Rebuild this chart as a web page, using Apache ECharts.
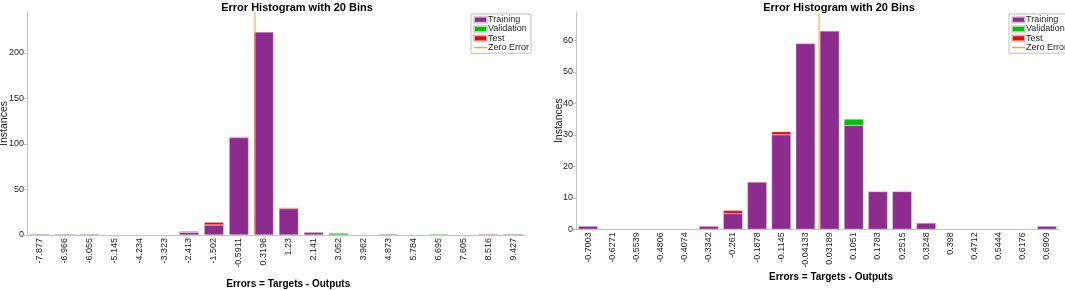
<!DOCTYPE html>
<html>
<head>
<meta charset="utf-8">
<script src="https://cdn.jsdelivr.net/npm/echarts@6/dist/echarts.min.js"></script>
<style>
  html, body { margin: 0; padding: 0; background: #fff; }
  #wrap { position: relative; width: 1065px; height: 290px; }
  #left { position: absolute; left: 0; top: 0; width: 540px; height: 290px; }
  #right { position: absolute; left: 540px; top: 0; width: 525px; height: 290px; }
</style>
</head>
<body>
<div id="wrap">
  <div id="left"></div>
  <div id="right"></div>
</div>
<script>
// Left histogram (bin centers + stacked counts)
const leftBins = ['-7.877', '-6.966', '-6.055', '-5.145', '-4.234', '-3.323', '-2.413', '-1.502', '-0.5911', '0.3196',
  '1.23', '2.141', '3.052', '3.962', '4.873', '5.784', '6.695', '7.605', '8.516', '9.427'];
const leftTraining = [1, 1, 1, 0, 0, 0, 3, 11, 107, 223, 29, 3, 0, 0, 1, 0, 0, 0, 1, 1];
const leftValidation = [0, 0, 0, 0, 0, 0, 0, 0, 1, 0, 0, 0, 2, 0, 0, 0, 1, 0, 0, 0];
const leftTest = [0, 0, 0, 0, 0, 0, 1, 3, 0, 0, 1, 0, 0, 0, 0, 0, 0, 0, 0, 0];
const leftYTicks = [0, 50, 100, 150, 200];
const leftYMax = 245;

// Right histogram
const rightBins = ['-0.7003', '-0.6271', '-0.5539', '-0.4806', '-0.4074', '-0.3342', '-0.261', '-0.1878', '-0.1145', '-0.04133',
  '0.03189', '0.1051', '0.1783', '0.2515', '0.3248', '0.398', '0.4712', '0.5444', '0.6176', '0.6909'];
const rightTraining = [1, 0, 0, 0, 0, 1, 5, 15, 30, 59, 63, 33, 12, 12, 2, 0, 0, 0, 0, 1];
const rightValidation = [0, 0, 0, 0, 0, 0, 0, 0, 0, 0, 0, 2, 0, 0, 0, 0, 0, 0, 0, 0];
const rightTest = [0, 0, 0, 0, 0, 0, 1, 0, 1, 0, 0, 0, 0, 0, 0, 0, 0, 0, 0, 0];
const rightYTicks = [0, 10, 20, 30, 40, 50, 60];
const rightYMax = 69;

const FONT = '"Liberation Sans", Arial, sans-serif';
const AXIS_COLOR = '#c4c4c4';
const TEXT_COLOR = '#262626';
const ZERO_COLOR = '#f5a623';
// thin horizontal stroke for the legend, padded so it keeps the icon box
const LINE_ICON = 'path://M0,0L0.01,0L0,0.01Z M0,4.6L26,4.6L26,7.4L0,7.4Z M26,12L25.99,12L26,11.99Z';

function buildOption(cfg) {
  const n = cfg.bins.length;
  const first = parseFloat(cfg.bins[0]);
  const step = (parseFloat(cfg.bins[n - 1]) - first) / (n - 1);
  // position of error = 0 on a 0..n scale where bin i spans [i, i+1]
  const zeroPos = (0 - first) / step + 0.5;
  const noZero = arr => arr.map(v => (v === 0 ? null : v));
  const barStyle = color => ({ color: color, borderColor: 'rgba(210,210,210,0.8)', borderWidth: 0.5 });

  return {
    animation: false,
    textStyle: { fontFamily: FONT },
    title: {
      text: 'Error Histogram with 20 Bins',
      left: cfg.titleX,
      top: -3,
      textAlign: 'center',
      textStyle: { fontSize: 11, fontWeight: 'bold', color: '#000', fontFamily: FONT }
    },
    legend: {
      orient: 'vertical',
      left: cfg.legendX,
      top: 14,
      padding: [1, 2, 1, 2],
      itemGap: 0,
      itemWidth: 13,
      itemHeight: 6,
      borderColor: '#bdbdbd',
      borderWidth: 1,
      backgroundColor: '#fff',
      textStyle: { fontSize: 9, lineHeight: 9.3, color: TEXT_COLOR, padding: [0, 0, 0, -4], fontFamily: FONT },
      data: [
        { name: 'Training', icon: 'rect' },
        { name: 'Validation', icon: 'rect' },
        { name: 'Test', icon: 'rect' },
        { name: 'Zero Error', icon: LINE_ICON, itemStyle: { color: ZERO_COLOR } }
      ]
    },
    grid: {
      left: cfg.grid[0], right: cfg.grid[1], top: cfg.grid[2], bottom: cfg.grid[3],
      outerBoundsMode: 'none', containLabel: false
    },
    xAxis: [
      {
        type: 'category',
        data: cfg.bins,
        axisLine: { lineStyle: { color: AXIS_COLOR } },
        axisTick: { alignWithLabel: true, length: 3, lineStyle: { color: AXIS_COLOR } },
        axisLabel: { rotate: 90, fontSize: 9, color: TEXT_COLOR, margin: 3, interval: 0, fontFamily: FONT },
        name: 'Errors = Targets - Outputs',
        nameLocation: 'middle',
        nameGap: cfg.xNameGap,
        nameMoveOverlap: false,
        nameTextStyle: { fontSize: 10, fontWeight: 'bold', color: '#000', padding: [0, 0, 0, cfg.xNameShift], fontFamily: FONT }
      },
      {
        type: 'value',
        min: 0,
        max: n,
        show: false
      }
    ],
    yAxis: {
      type: 'value',
      min: 0,
      max: cfg.yMax,
      splitLine: { show: false },
      axisLine: { show: true, lineStyle: { color: AXIS_COLOR } },
      axisTick: { show: true, length: 3, customValues: cfg.yTicks, lineStyle: { color: AXIS_COLOR } },
      axisLabel: { fontSize: 9, color: TEXT_COLOR, margin: 3, customValues: cfg.yTicks, fontFamily: FONT },
      name: 'Instances',
      nameLocation: 'middle',
      nameGap: cfg.yNameGap,
      nameMoveOverlap: false,
      nameTextStyle: { fontSize: 10.5, color: TEXT_COLOR, fontFamily: FONT }
    },
    series: [
      { name: 'Training', type: 'bar', stack: 'e', barWidth: cfg.barWidth, data: noZero(cfg.training), itemStyle: barStyle('#8e2b8e') },
      { name: 'Validation', type: 'bar', stack: 'e', barWidth: cfg.barWidth, data: noZero(cfg.validation), itemStyle: barStyle('#00c400') },
      { name: 'Test', type: 'bar', stack: 'e', barWidth: cfg.barWidth, data: noZero(cfg.test), itemStyle: barStyle('#ff0000') },
      {
        name: 'Zero Error',
        type: 'line',
        xAxisIndex: 1,
        symbol: 'none',
        z: 5,
        lineStyle: { color: ZERO_COLOR, width: 1 },
        itemStyle: { color: ZERO_COLOR },
        data: [[zeroPos, 0], [zeroPos, cfg.yMax]]
      }
    ]
  };
}

const leftChart = echarts.init(document.getElementById('left'));
leftChart.setOption(buildOption({
  bins: leftBins, training: leftTraining, validation: leftValidation, test: leftTest,
  yTicks: leftYTicks, yMax: leftYMax,
  grid: [27, 14.5, 12, 55],
  barWidth: '78%',
  titleX: 292, legendX: 471,
  xNameGap: 44, xNameShift: 24, yNameGap: 17
}));

const rightChart = echarts.init(document.getElementById('right'));
rightChart.setOption(buildOption({
  bins: rightBins, training: rightTraining, validation: rightValidation, test: rightTest,
  yTicks: rightYTicks, yMax: rightYMax,
  grid: [36, 6, 12, 60.7],
  barWidth: '80%',
  titleX: 294, legendX: 469,
  xNameGap: 43, xNameShift: 27, yNameGap: 11
}));
</script>
</body>
</html>
